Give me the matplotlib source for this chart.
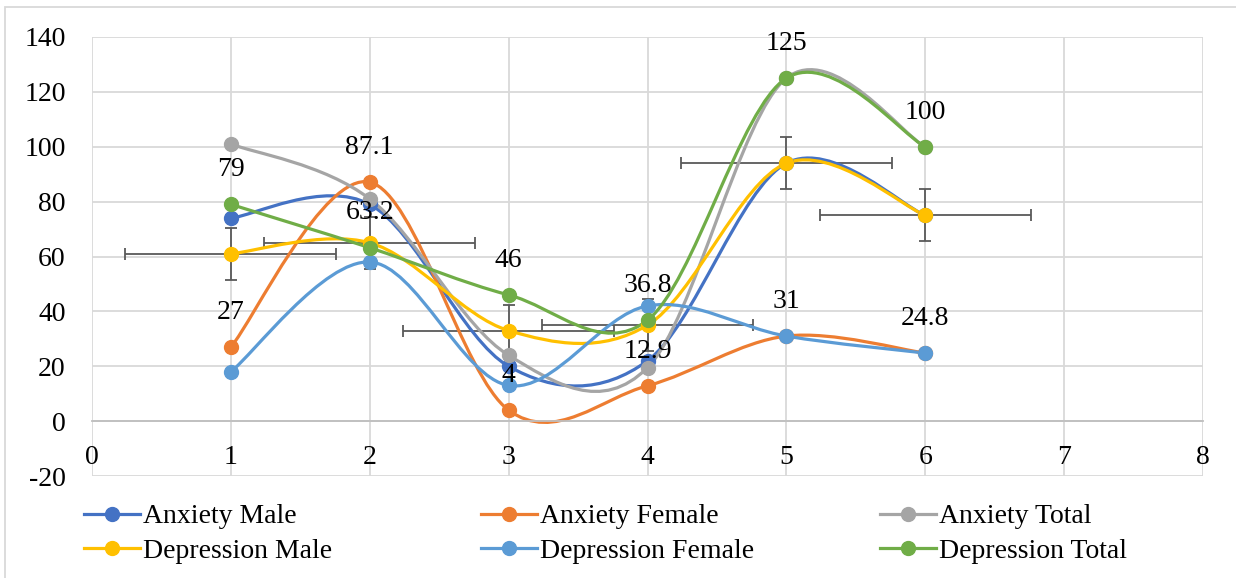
import matplotlib
matplotlib.use('Agg')
import matplotlib.pyplot as plt
import numpy as np
from matplotlib.path import Path
from matplotlib.patches import PathPatch, Rectangle
from matplotlib.lines import Line2D

x_vals = [1, 2, 3, 4, 5, 6]
anxiety_male = [74, 79, 20, 22, 94, 75]
anxiety_female = [27, 87.1, 4, 12.9, 31, 24.8]
anxiety_total = [101, 81, 24, 19.5, 125, 100]
depression_male = [61, 65, 33, 35, 94, 75]
depression_female = [18, 58, 13, 42, 31, 24.8]
depression_total = [79, 63.2, 46, 36.8, 125, 100]

series_names = ['Anxiety Male', 'Anxiety Female', 'Anxiety Total',
                'Depression Male', 'Depression Female', 'Depression Total']
series_values = [anxiety_male, anxiety_female, anxiety_total,
                 depression_male, depression_female, depression_total]
colors = ['#4472C4', '#ED7D31', '#A5A5A5', '#FFC000', '#5B9BD5', '#70AD47']
labelled = ['Anxiety Female', 'Depression Total']

# error bar sizes on Depression Male
x_err = 0.76
y_err = 9.5

plt.rcParams['font.family'] = ['Liberation Serif', 'DejaVu Serif']
plt.rcParams['font.size'] = 20
plt.rcParams['axes.unicode_minus'] = False


def smooth_path(xs, ys):
    # Excel-like smoothed line: cubic bezier, control points from neighbours
    pts = np.column_stack([xs, ys]).astype(float)
    n = len(pts)
    verts = [pts[0]]
    codes = [Path.MOVETO]
    for i in range(n - 1):
        p0 = pts[i - 1] if i > 0 else pts[i]
        p1 = pts[i]
        p2 = pts[i + 1]
        p3 = pts[i + 2] if i + 2 < n else pts[i + 1]
        c1 = p1 + (p2 - p0) / 6
        c2 = p2 - (p3 - p1) / 6
        verts += [c1, c2, p2]
        codes += [Path.CURVE4] * 3
    return Path(verts, codes)


fig = plt.figure(figsize=(12.36, 5.78), dpi=100)
ax = fig.add_axes([92 / 1236, 102 / 578, 1111 / 1236, 439 / 578])

ax.set_xlim(0, 8)
ax.set_ylim(-20, 140)
ax.set_xticks(range(0, 9))
ax.set_yticks(range(-20, 141, 20))
ax.grid(True, color='#D9D9D9', linewidth=1.3)
ax.set_axisbelow(True)
for s in ['top', 'right', 'left']:
    ax.spines[s].set_visible(False)
ax.spines['bottom'].set_position(('data', 0))
ax.spines['bottom'].set_color('#BFBFBF')
ax.spines['bottom'].set_linewidth(1.3)
ax.tick_params(axis='both', length=0)
ax.tick_params(axis='y', pad=19)
ax.tick_params(axis='x', pad=17)

ax.errorbar(x_vals, depression_male, xerr=x_err, yerr=y_err, fmt='none',
            ecolor='#595959', elinewidth=1.3, capsize=4.5, capthick=1.3, zorder=1.5)

handles = {}
for name, vals, col in zip(series_names, series_values, colors):
    ax.add_patch(PathPatch(smooth_path(x_vals, vals), facecolor='none',
                           edgecolor=col, linewidth=2.3, zorder=2, capstyle='round'))
    ax.plot(x_vals, vals, linestyle='none', marker='o', markersize=10,
            color=col, zorder=3)
    handles[name] = Line2D([], [], color=col, linewidth=2.3, marker='o', markersize=10)

for name in labelled:
    vals = series_values[series_names.index(name)]
    for xv, yv in zip(x_vals, vals):
        ax.annotate(f'{yv:g}', (xv, yv), xytext=(0, 25), textcoords='offset points',
                    ha='center', va='center', fontsize=20, zorder=5)

# legend: three columns of two rows
legend_cols = [(84, ['Anxiety Male', 'Depression Male']),
               (481, ['Anxiety Female', 'Depression Female']),
               (880, ['Anxiety Total', 'Depression Total'])]
for x0, names in legend_cols:
    leg = fig.legend([handles[n] for n in names], names, loc='upper left',
                     bbox_to_anchor=(x0 / 1236, 1 - 504 / 578), frameon=False,
                     borderpad=0, borderaxespad=0, handlelength=2.0,
                     handletextpad=0.12, labelspacing=0.31, fontsize=20)

fig.patches.append(Rectangle((5 / 1236, -0.05), 1.2, 1.05 - 7 / 578,
                             transform=fig.transFigure, fill=False,
                             edgecolor='#D9D9D9', linewidth=1.3))

fig.savefig('out.png', dpi=100)
